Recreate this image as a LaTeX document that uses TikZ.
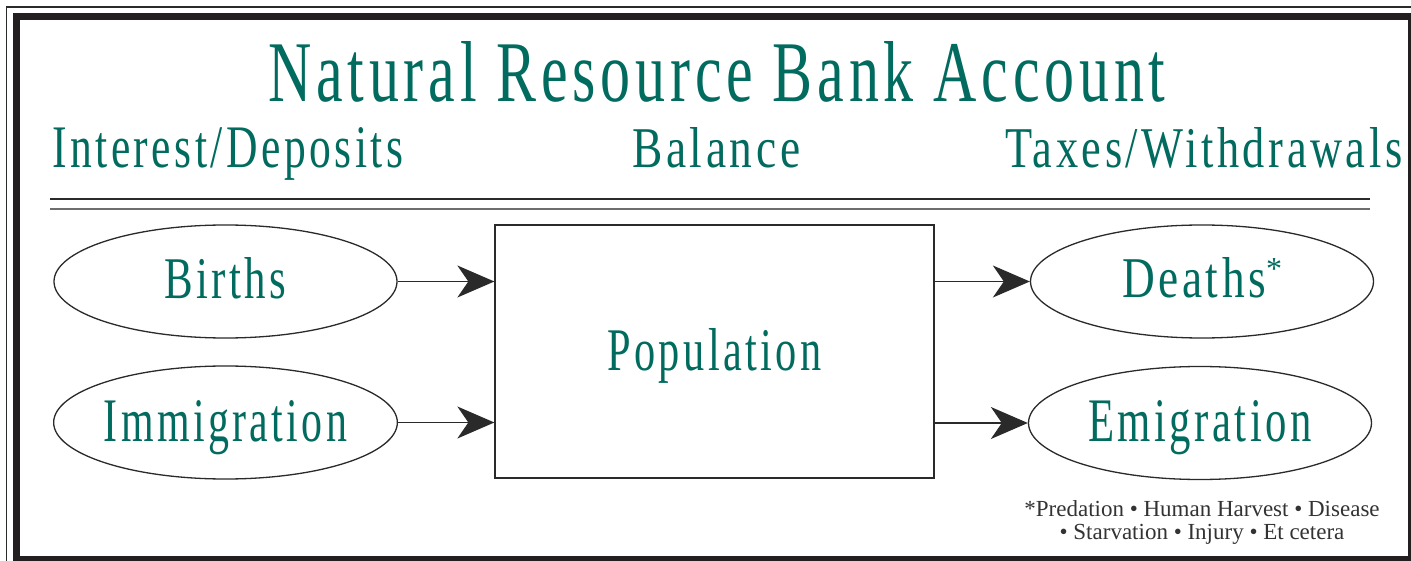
\documentclass[tikz,border=0pt]{standalone}
\usepackage{fontspec}
\setmainfont{Liberation Serif}
\newfontfamily\disp[LetterSpace=8]{Liberation Serif}
\usepackage{graphicx}
\usetikzlibrary{shapes.geometric,arrows.meta}
\definecolor{nrteal}{HTML}{006B5E}
\definecolor{linec}{HTML}{2A2A2A}
\definecolor{framec}{HTML}{231F20}
\definecolor{rulegray}{HTML}{6E6E6E}
\definecolor{footc}{HTML}{333333}
\begin{document}
\begin{tikzpicture}[x=1pt,y=-1pt,
  lbl/.style={inner sep=0pt, text=nrteal, font=\disp},
  oval/.style={draw=linec, line width=1.3pt, ellipse, minimum width=343pt,
               minimum height=113pt, inner sep=0pt, text=nrteal, font=\disp},
  popbox/.style={draw=linec, line width=1.3pt, rectangle, minimum width=439pt,
               minimum height=253pt, inner sep=0pt, text=nrteal, font=\disp},
  arr/.style={draw=linec, line width=1.3pt, -{Stealth[length=37pt,width=32pt,inset=11pt]}},
  foot/.style={inner sep=0pt, text=footc, font=\fontsize{23}{24}\selectfont}]
\useasboundingbox (0,0) rectangle (1411,561);
\clip (0,0) rectangle (1411,561);
\fill[white] (0,0) rectangle (1411,561);
% frame
\draw[line width=1.3pt, draw=linec] (6.5,7) rectangle (1430,580);
\draw[line width=7pt, draw=framec] (16.5,17) rectangle (1411,559.5);
% rules
\draw[line width=1.3pt, draw=linec] (50,199) -- (1370,199);
\draw[line width=1.6pt, draw=rulegray] (50,209) -- (1370,209);
% title and headings
\node[lbl, anchor=base west] (title) at (268,102) {\resizebox{897pt}{60pt}{Natural Resource Bank Account}};
\node[lbl, anchor=base west] (interest) at (52,168) {\resizebox{351pt}{40pt}{Interest/Deposits}};
\node[lbl, anchor=base west] (balance) at (632,168) {\resizebox{168pt}{40pt}{Balance}};
\node[lbl, anchor=base west] (taxes) at (1005,168) {\resizebox{397pt}{40pt}{Taxes/Withdrawals}};
% nodes
\node[oval, text height=41pt, text depth=6pt] (births) at (225.5,281.5) {\resizebox{122pt}{41pt}{Births}};
\node[oval, text height=41pt, text depth=4pt] (immig) at (225.5,422.5) {\resizebox{243pt}{41pt}{Immigration}};
\node[popbox, text height=42pt, text depth=5pt] (pop) at (714.5,351.5) {\resizebox{214pt}{42pt}{Population}};
\node[oval, text height=40pt, text depth=7pt] (deaths) at (1202,281.5) {\resizebox{144pt}{40pt}{Deaths}\raisebox{18pt}{\fontsize{32}{32}\selectfont *}};
\node[oval, text height=41pt, text depth=5pt] (emig) at (1200,423) {\resizebox{223pt}{41pt}{Emigration}};
% connectors
\draw[arr] (births.east) -- (births.east -| pop.west);
\draw[arr] (immig.east) -- (immig.east -| pop.west);
\draw[arr] (pop.east |- deaths.west) -- (deaths.west);
\draw[arr] (pop.east |- emig.west) -- (emig.west);
% footnote
\node[foot, anchor=base] (note1) at (1202,516) {*Predation • Human Harvest • Disease};
\node[foot, anchor=base] (note2) at (1202,539) {• Starvation • Injury • Et cetera};
\end{tikzpicture}
\end{document}
